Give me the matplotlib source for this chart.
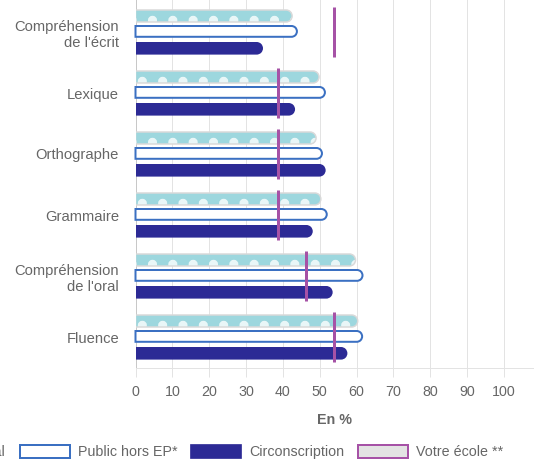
import numpy as np
import matplotlib
matplotlib.use("Agg")
import matplotlib.pyplot as plt
from matplotlib.patches import FancyBboxPatch, Patch
from matplotlib.path import Path

# values (in %)
domaines = ["Compréhension\nde l'écrit", "Lexique", "Orthographe", "Grammaire",
            "Compréhension\nde l'oral", "Fluence"]
national = [42.5, 49.8, 49.0, 50.3, 59.7, 60.3]
public_hors_ep = [43.8, 51.4, 50.6, 51.9, 61.6, 61.5]
circonscription = [34.6, 43.3, 51.6, 48.1, 53.5, 57.5]
votre_ecole = [53.9, 38.6, 38.6, 38.6, 46.3, 53.9]
x_ticks = list(range(0, 101, 10))

TEAL = "#9dd7de"
DOTS = "#e9f6f7"
NAVY = "#2c2a95"
BLUE = "#3b70c2"
PURPLE = "#a652a6"
GREY_TXT = "#666666"

# dpi chosen so the dot hatch repeats once every 20 px (3 rows per group)
DPI = 122
W, H = 534, 464
plt.rcParams["font.family"] = ["Liberation Sans", "DejaVu Sans"]
plt.rcParams["hatch.linewidth"] = 5 * 72 / DPI


def px(p):
    # pixels -> points
    return p * 72 / DPI


def right_round(x0, y0, width, height, mutation_size):
    # rectangle with a rounded right end only
    r = min(height / 2, width)
    arc = Path.arc(-90, 90)
    av = arc.vertices * r + [x0 + width - r, y0 + height / 2]
    verts = np.vstack([[[x0, y0]], av, [[x0, y0 + height], [x0, y0]]])
    codes = [Path.MOVETO, Path.LINETO] + list(arc.codes[1:]) + [Path.LINETO, Path.CLOSEPOLY]
    return Path(verts, codes)


fig = plt.figure(figsize=(W / DPI, H / DPI), dpi=DPI)
left, bottom = 135.5, 368
ax = fig.add_axes([left / W, 1 - bottom / H, (W - left) / W, bottom / H])

xmax = (W - left) / 3.685
ytop, ybot = -32 / 61, (bottom - 32) / 61
ax.set_xlim(0, xmax)
ax.set_ylim(ybot, ytop)

aspect = ((ybot - ytop) / bottom) / (xmax / (W - left))

bh = 12 / 61
off = 16 / 61
y = np.arange(len(domaines))

for i in range(len(domaines)):
    # national: teal with dots
    ax.add_patch(FancyBboxPatch((0, y[i] - off - bh / 2), national[i], bh, boxstyle=right_round,
                                mutation_aspect=aspect, facecolor=TEAL, edgecolor=DOTS,
                                linewidth=0, hatch=".", zorder=3))
    ax.add_patch(FancyBboxPatch((0, y[i] - off - bh / 2), national[i], bh, boxstyle=right_round,
                                mutation_aspect=aspect, facecolor="none", edgecolor="#d9d9d9",
                                linewidth=px(1.5), zorder=3))
    # public hors EP
    ax.add_patch(FancyBboxPatch((0, y[i] - bh / 2), public_hors_ep[i], bh * 0.9, boxstyle=right_round,
                                mutation_aspect=aspect, facecolor="white", edgecolor=BLUE,
                                linewidth=px(2), zorder=3, clip_on=False))
    # circonscription
    ax.add_patch(FancyBboxPatch((0, y[i] + off - bh / 2), circonscription[i], bh * 1.05,
                                boxstyle=right_round, mutation_aspect=aspect,
                                facecolor=NAVY, edgecolor="none", zorder=3))

ax.vlines(votre_ecole, y - 0.41, y + 0.41, colors=PURPLE, linewidth=px(3), zorder=4)

ax.set_yticks(y, domaines)
ax.set_xticks(x_ticks)
ax.tick_params(axis="y", length=0, pad=px(16.5), labelsize=px(14.8), labelcolor=GREY_TXT)
ax.tick_params(axis="x", length=px(9), width=px(1), color="#e3e3e3", pad=px(8),
               labelsize=px(14.3), labelcolor=GREY_TXT)
ax.grid(axis="x", color="#e3e3e3", linewidth=px(1))
ax.set_axisbelow(True)
for s in ["top", "right"]:
    ax.spines[s].set_visible(False)
ax.spines["left"].set_color("#c8c8c8")
ax.spines["left"].set_linewidth(px(1))
ax.spines["bottom"].set_color("#e3e3e3")
ax.spines["bottom"].set_linewidth(px(1))

ax.set_xlabel("En %", fontsize=px(14.3), color=GREY_TXT, fontweight="bold", labelpad=px(14))

handles = [
    Patch(facecolor=TEAL, edgecolor="#d9d9d9", hatch="."),
    Patch(facecolor="white", edgecolor=BLUE, linewidth=px(2)),
    Patch(facecolor=NAVY, edgecolor=NAVY),
    Patch(facecolor="#e3e3e3", edgecolor=PURPLE, linewidth=px(2)),
]
names = ["National", "Public hors EP*", "Circonscription", "Votre école **"]
fig.legend(handles, names, loc="center right", bbox_to_anchor=(503 / W, 1 - 452 / H),
           ncol=4, frameon=False, fontsize=px(14.3), labelcolor=GREY_TXT,
           handlelength=3.5, handleheight=1.0, handletextpad=0.56, columnspacing=0.95,
           borderpad=0, borderaxespad=0)

fig.savefig("out.png", dpi=DPI)
